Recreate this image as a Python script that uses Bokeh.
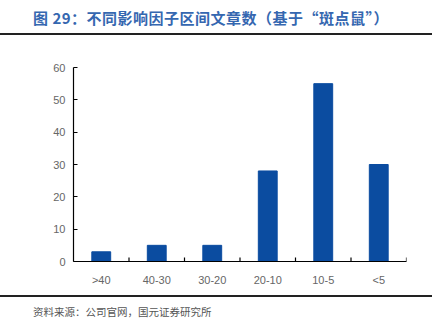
from bokeh.plotting import figure
from bokeh.layouts import column
from bokeh.models import Div, FixedTicker, Range1d
from bokeh.embed import file_html
from bokeh.resources import INLINE

categories = [">40", "40-30", "30-20", "20-10", "10-5", "<5"]
counts = [3, 5, 5, 28, 55, 30]
y_ticks = [0, 10, 20, 30, 40, 50, 60]

title_text = "图 29：不同影响因子区间文章数（基于“斑点鼠”）"
source_text = "资料来源：公司官网，国元证券研究所"

W = 443
title_div = Div(text=title_text, width=W, height=35, margin=0,
                styles={"font-family": "'Noto Sans CJK SC'", "font-weight": "bold",
                        "font-size": "15px", "letter-spacing": "0.5px", "color": "#3567b0",
                        "box-sizing": "border-box", "width": "432px", "height": "35px",
                        "padding": "9px 0 0 33px", "line-height": "17px",
                        "white-space": "nowrap",
                        "border-bottom": "2px solid #222222"})

p = figure(x_range=categories, y_range=Range1d(0, 60), width=W, height=260,
           output_backend="svg", toolbar_location=None, margin=0,
           min_border_left=73, min_border_right=W - 406, min_border_top=32,
           min_border_bottom=34)
p.vbar(x=categories, top=counts, width=0.34, color="#0b4ca0")

p.xgrid.visible = False
p.ygrid.visible = False
p.outline_line_color = None

p.yaxis.ticker = FixedTicker(ticks=y_ticks)
for ax in (p.xaxis[0], p.yaxis[0]):
    ax.axis_line_color = "black"
    ax.axis_line_width = 1.2
    ax.major_tick_line_color = "black"
    ax.minor_tick_line_color = None
    ax.major_label_text_color = "#666666"
    ax.major_label_text_font = "Liberation Sans"
    ax.major_label_text_font_size = "11px"
p.yaxis.major_tick_in = 4
p.yaxis.major_tick_out = 0
p.yaxis.major_label_standoff = 8
p.xaxis.major_tick_line_color = None
p.xaxis.major_label_standoff = 6

# category boundary ticks on x axis
xb = [(c, -0.5) for c in categories[1:]] + [(categories[-1], 0.5)]
p.segment(x0=xb, y0=[0] * len(xb), x1=xb, y1=[1.2] * len(xb),
          line_color="black", line_width=1.2)

source_div = Div(text=source_text, width=W, height=27, margin=0,
                 styles={"font-family": "'Noto Sans CJK SC'", "font-size": "10.5px",
                         "color": "#555555", "box-sizing": "border-box",
                         "width": "432px", "height": "27px",
                         "padding": "8px 0 0 33px", "line-height": "14px",
                         "border-top": "2px solid #222222"})

layout = column(title_div, p, source_div, spacing=0, margin=0)
open("out.html", "w").write(file_html(layout, INLINE))
